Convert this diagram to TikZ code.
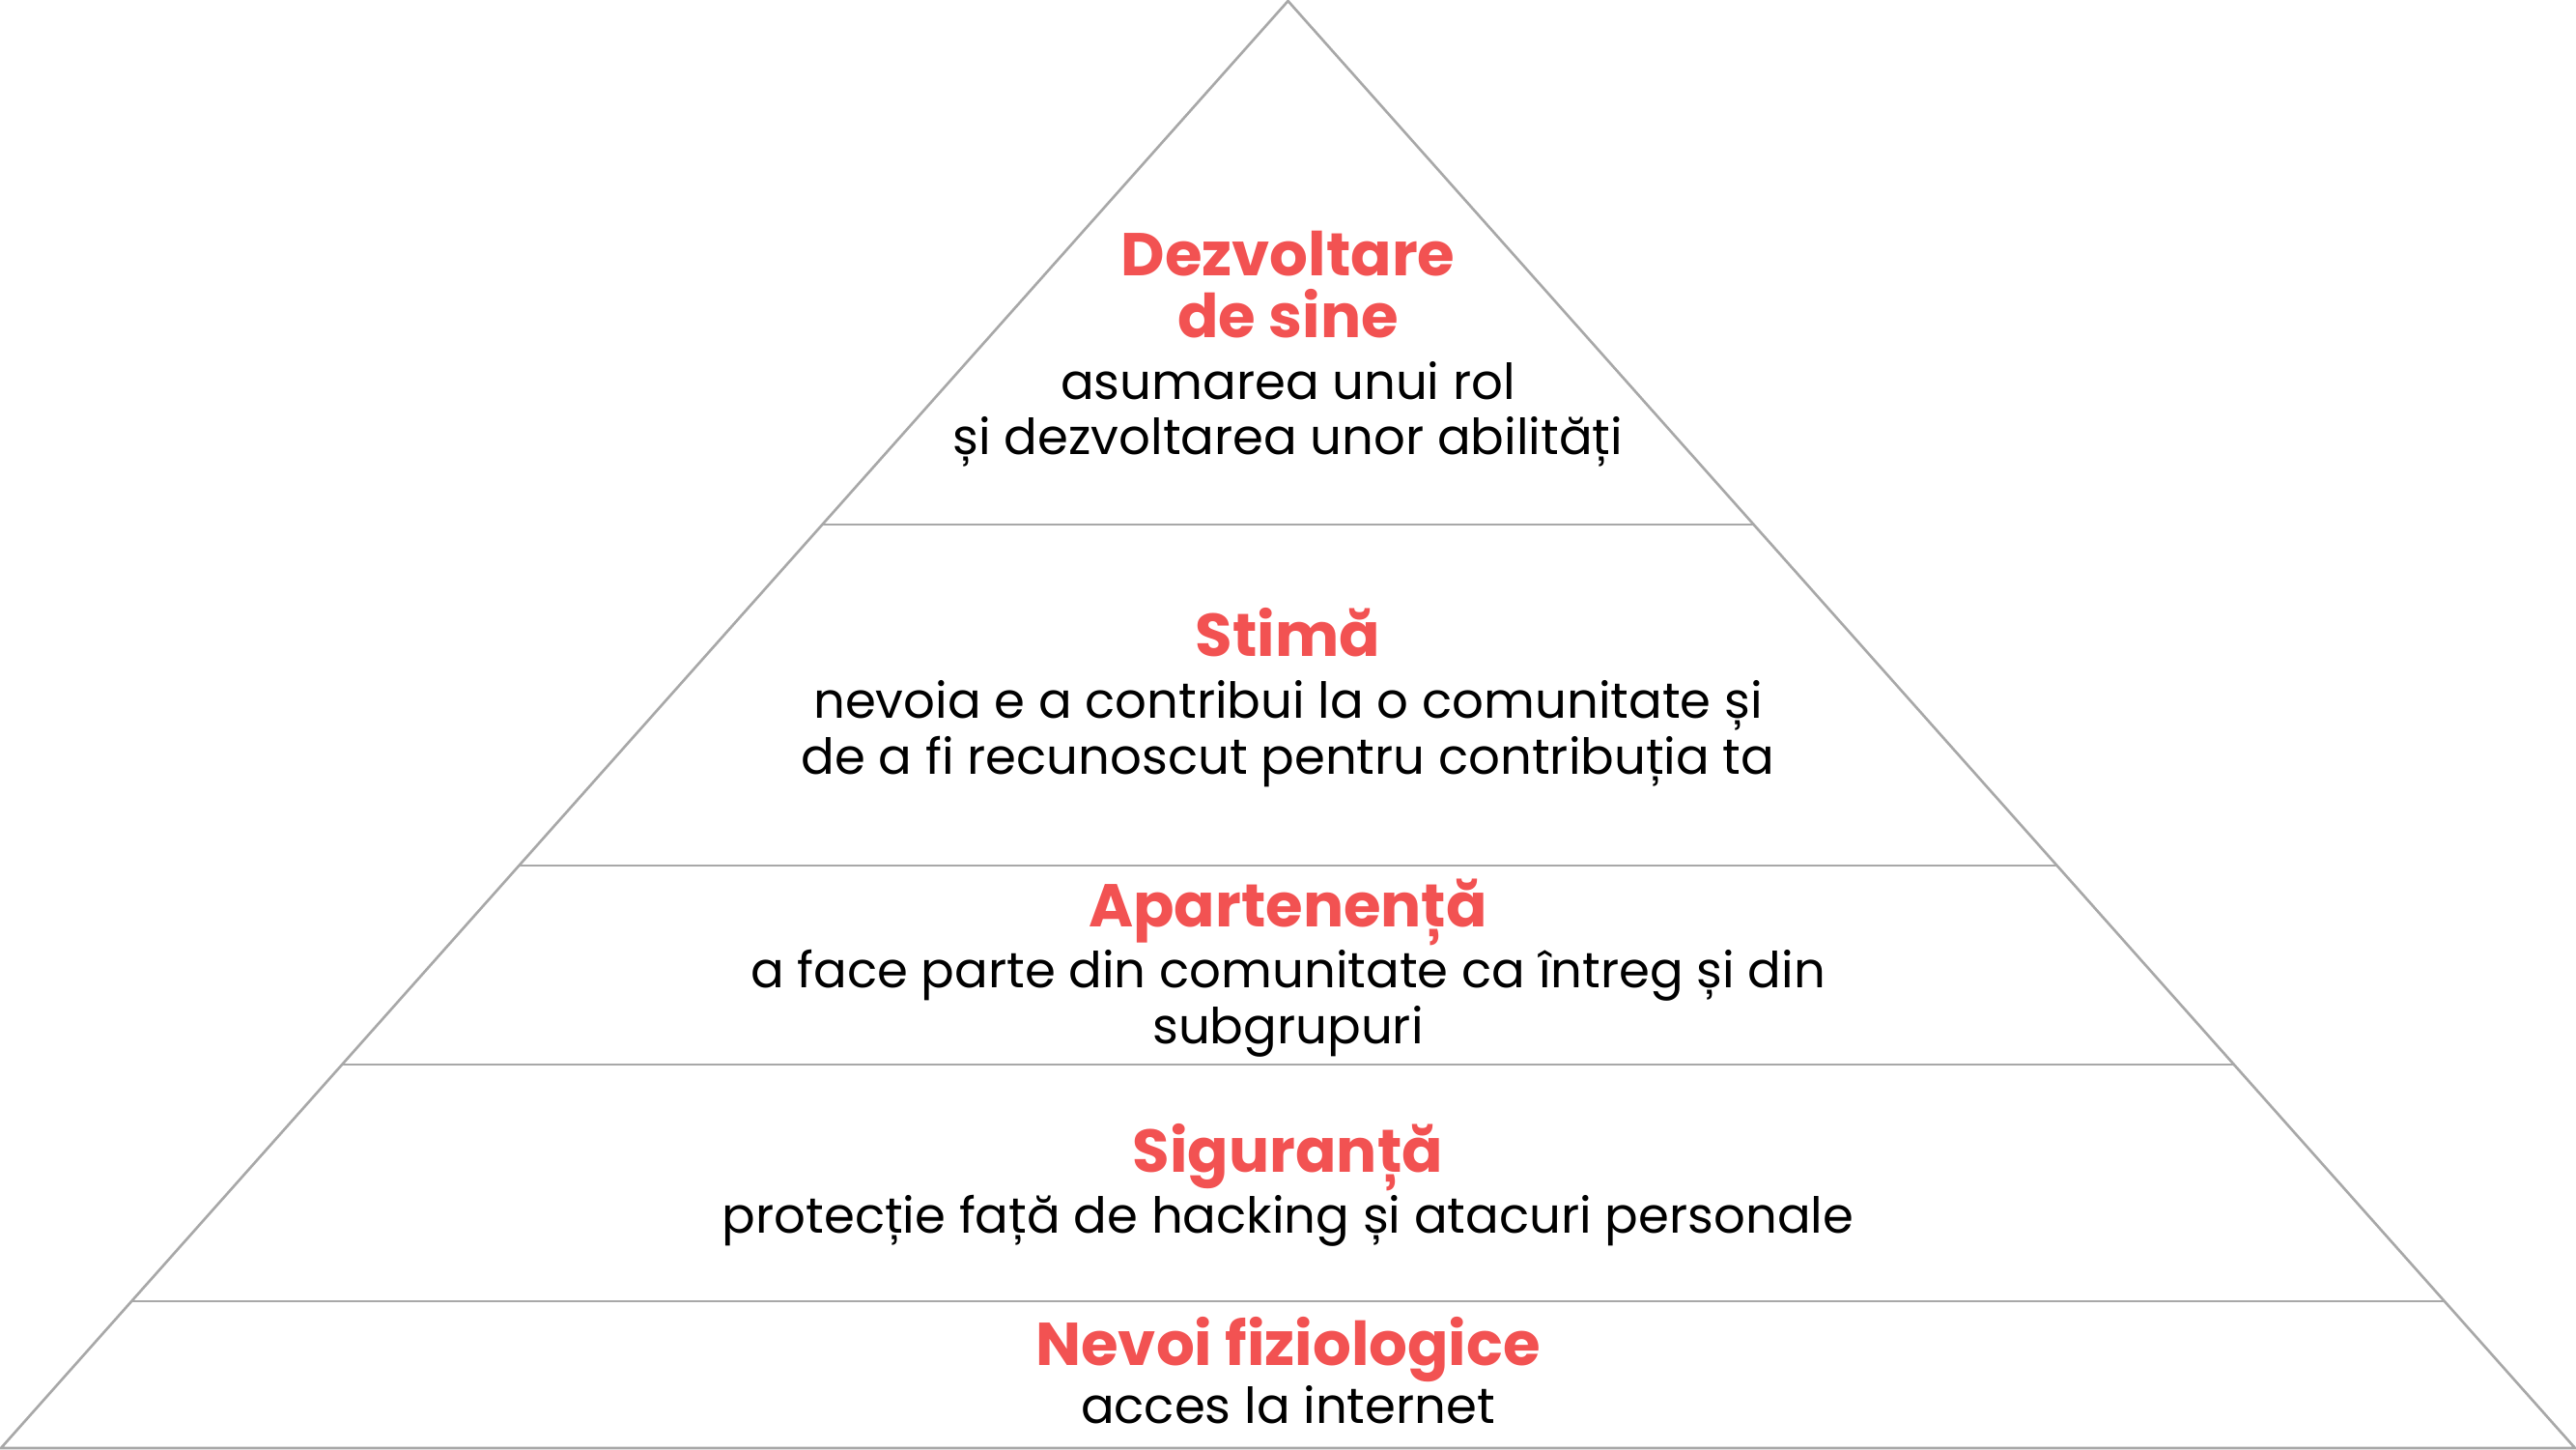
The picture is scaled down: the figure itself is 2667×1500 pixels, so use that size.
\documentclass[tikz,border=0pt]{standalone}
\usepackage{fontspec}
\setmainfont{Poppins}
\usepackage{tikz}

\definecolor{levelred}{RGB}{242,82,82}
\definecolor{edgegray}{RGB}{168,168,168}

\tikzset{
  title/.style={anchor=base, inner sep=0pt, text=levelred,
    font=\fontsize{17.8}{17.8}\selectfont\bfseries},
  body/.style={anchor=base, inner sep=0pt, text=black,
    font=\fontsize{14.6}{14.6}\selectfont},
}

\begin{document}
\begin{tikzpicture}[x=0.01cm, y=-0.01cm]
    \useasboundingbox (0,0) rectangle (2667,1500);
    % pyramid outline and level borders
    \coordinate (apex) at (1333.5,1);
    \coordinate (bl) at (1,1499);
    \coordinate (br) at (2666,1499);
    \draw [edgegray, line width=0.75pt, line join=miter] (bl) -- (apex) -- (br) -- cycle;
    \coordinate (l1) at (851,543);  \coordinate (r1) at (1816,543);
    \coordinate (l2) at (537,896);  \coordinate (r2) at (2130,896);
    \coordinate (l3) at (354,1102); \coordinate (r3) at (2313,1102);
    \coordinate (l4) at (136,1347); \coordinate (r4) at (2531,1347);
    \draw [edgegray, line width=0.75pt] (l1) -- (r1);
    \draw [edgegray, line width=0.75pt] (l2) -- (r2);
    \draw [edgegray, line width=0.75pt] (l3) -- (r3);
    \draw [edgegray, line width=0.75pt] (l4) -- (r4);
    % level 5
    \node [title] (self1) at (1333.5,285) {Dezvoltare};
    \node [title] (self2) at (1333.5,349) {de sine};
    \node [body] (selfa) at (1333.5,413) {asumarea unui rol};
    \node [body] (selfb) at (1333.5,470) {și dezvoltarea unor abilități};
    % level 4
    \node [title] (esteem) at (1333.5,679) {Stimă};
    \node [body] (esteema) at (1333.5,743) {nevoia e a contribui la o comunitate și};
    \node [body] (esteemb) at (1333.5,801) {de a fi recunoscut pentru contribuția ta};
    % level 3
    \node [title] (belong) at (1333.5,959) {Apartenență};
    \node [body] (belonga) at (1333.5,1022) {a face parte din comunitate ca întreg și din};
    \node [body] (belongb) at (1333.5,1080) {subgrupuri};
    % level 2
    \node [title] (safety) at (1333.5,1213) {Siguranță};
    \node [body] (safetya) at (1333.5,1276) {protecție față de hacking și atacuri personale};
    % level 1
    \node [title] (needs) at (1333.5,1413) {Nevoi fiziologice};
    \node [body] (needsa) at (1333.5,1473) {acces la internet};
\end{tikzpicture}
\end{document}
